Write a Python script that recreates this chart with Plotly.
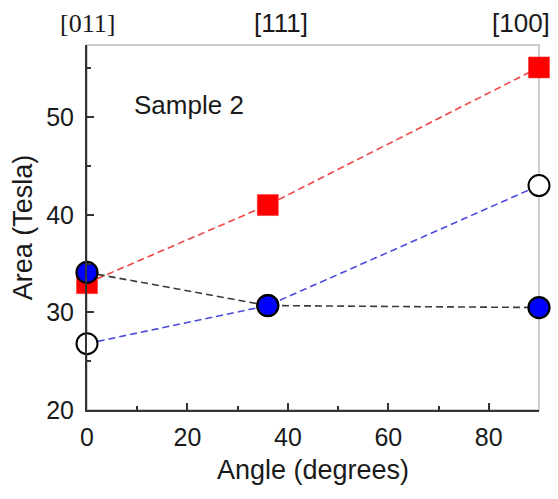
import plotly.graph_objects as go

angles = [0, 36, 90]
red_sq = [33.0, 41.0, 55.1]
blue_filled = [34.1, 30.7, 30.5]
open_circ = [26.8, 30.7, 43.0]
top_labels = ["[011]", "[111]", "[100]"]
top_label_x = [0, 38.7, 86.5]
top_label_fonts = ["Liberation Serif", "Liberation Sans", "Liberation Sans"]

DASH = "7px,4px"
fig = go.Figure()
fig.add_trace(go.Scatter(x=angles, y=red_sq, mode="lines",
    line=dict(color="#f04545", dash=DASH, width=1.6), cliponaxis=False))
fig.add_trace(go.Scatter(x=angles, y=open_circ, mode="lines",
    line=dict(color="#4a4ae0", dash=DASH, width=1.6), cliponaxis=False))
fig.add_trace(go.Scatter(x=angles, y=blue_filled, mode="lines",
    line=dict(color="#3a3a3a", dash=DASH, width=1.6), cliponaxis=False))
fig.add_trace(go.Scatter(x=angles, y=red_sq, mode="markers",
    marker=dict(symbol="square", size=21, color="#ff0000", line=dict(color="#ff2a2a", width=0.5)),
    cliponaxis=False))
fig.add_trace(go.Scatter(x=angles, y=open_circ, mode="markers",
    marker=dict(symbol="circle", size=21, color="white", line=dict(color="black", width=2)),
    cliponaxis=False))
fig.add_trace(go.Scatter(x=angles, y=blue_filled, mode="markers",
    marker=dict(symbol="circle", size=21, color="#0000ff", line=dict(color="black", width=2.2)),
    cliponaxis=False))

for lx, t, f in zip(top_label_x, top_labels, top_label_fonts):
    fig.add_annotation(x=lx, y=1, xref="x", yref="paper", text=t, showarrow=False,
        yanchor="middle", yshift=22, font=dict(family=f, size=26, color="#1a1a1a"))

fig.add_annotation(x=20.4, y=51.3, xref="x", yref="y", text="Sample 2", showarrow=False,
    font=dict(family="Liberation Sans", size=26, color="#1a1a1a"))

fig.add_shape(type="rect", xref="paper", yref="paper", x0=0, x1=1, y0=0, y1=1,
    line=dict(color="#bdbdbd", width=1.5), layer="below")

fig.update_layout(
    width=558, height=499, showlegend=False, hovermode=False,
    plot_bgcolor="white", paper_bgcolor="white",
    margin=dict(l=87, r=19, t=45, b=89),
    font=dict(family="Liberation Sans", color="#1a1a1a"),
    xaxis=dict(range=[0, 90], tickvals=[0, 20, 40, 60, 80], ticks="inside", ticklen=7,
        tickwidth=1.5, tickcolor="#333", showline=True, linecolor="#333", linewidth=2,
        showgrid=False, zeroline=False, tickfont=dict(size=25), ticklabelstandoff=4,
        automargin=False,
        minor=dict(tickvals=[10, 30, 50, 70], ticks="inside", ticklen=4, tickcolor="#333", tickwidth=1.5),
        title=dict(text="Angle (degrees)", font=dict(size=27), standoff=10)),
    yaxis=dict(range=[20, 57.4], tickvals=[20, 30, 40, 50], ticks="inside", ticklen=7,
        tickwidth=1.5, tickcolor="#333", showline=True, linecolor="#333", linewidth=2,
        showgrid=False, zeroline=False, tickfont=dict(size=25), ticklabelstandoff=6,
        automargin=False,
        minor=dict(tickvals=[25, 35, 45, 55], ticks="inside", ticklen=4, tickcolor="#333", tickwidth=1.5),
        title=dict(text="Area (Tesla)", font=dict(size=27), standoff=6)),
)
fig.write_html("out.html", config={"displayModeBar": False},
               post_script="document.body.style.margin='0';")
